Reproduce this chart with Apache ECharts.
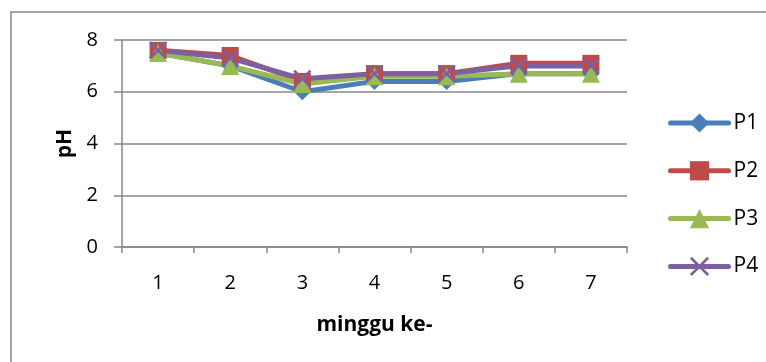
<!DOCTYPE html>
<html>
<head>
<meta charset="utf-8">
<script src="https://cdn.jsdelivr.net/npm/echarts@6/dist/echarts.min.js"></script>
<style>
  html, body { margin: 0; padding: 0; background: #fff; }
  #chart { width: 766px; height: 362px; }
</style>
</head>
<body>
<div id="chart"></div>
<script>
// Weekly pH readings for four treatments
const weeks = ['1', '2', '3', '4', '5', '6', '7'];
const p1 = [7.5, 7.0, 6.0, 6.4, 6.4, 6.7, 6.7];
const p2 = [7.6, 7.4, 6.4, 6.7, 6.7, 7.1, 7.1];
const p3 = [7.5, 7.0, 6.3, 6.6, 6.6, 6.7, 6.7];
const p4 = [7.6, 7.3, 6.5, 6.7, 6.7, 7.0, 7.0];
const seriesNames = ['P1', 'P2', 'P3', 'P4'];

const FONT = '"Open Sans", "Noto Sans", sans-serif';
const crossPath = 'path://M0,1L1,0L5,4L9,0L10,1L6,5L10,9L9,10L5,6L1,10L0,9L4,5Z';

function lineSeries(name, data, color, symbol, size) {
  return {
    name: name,
    type: 'line',
    data: data,
    symbol: symbol,
    symbolSize: size,
    showAllSymbol: true,
    color: color,
    lineStyle: { color: color, width: 5 },
    itemStyle: { color: color },
    emphasis: { disabled: true },
    animation: false
  };
}

const chart = echarts.init(document.getElementById('chart'), null, { renderer: 'canvas' });
chart.setOption({
  backgroundColor: '#ffffff',
  textStyle: { fontFamily: FONT },
  graphic: [{
    type: 'rect',
    shape: { x: 11, y: 12, width: 820, height: 420 },
    style: { fill: 'none', stroke: '#878787', lineWidth: 1.5 },
    silent: true
  }],
  grid: { left: 122, right: 139, top: 40, bottom: 115, containLabel: false },
  legend: {
    orient: 'vertical',
    left: 663,
    top: 106,
    itemWidth: 58,
    itemHeight: 24,
    itemGap: 23.8,
    lineStyle: { width: 5, cap: 'round' },
    textStyle: { fontFamily: FONT, fontSize: 21, lineHeight: 24, color: '#000' },
    data: seriesNames
  },
  xAxis: {
    type: 'category',
    data: weeks,
    boundaryGap: true,
    name: 'minggu ke-',
    nameLocation: 'middle',
    nameGap: 68,
    nameTextStyle: { fontFamily: FONT, fontSize: 21, fontWeight: 'bold', color: '#000' },
    axisLine: { lineStyle: { color: '#878787', width: 1.5 } },
    axisTick: { show: true, length: 6, inside: false, lineStyle: { color: '#878787', width: 1.5 } },
    axisLabel: { fontFamily: FONT, fontSize: 20, color: '#000', margin: 26 },
    splitLine: { show: false }
  },
  yAxis: {
    type: 'value',
    min: 0,
    max: 8,
    interval: 2,
    name: 'pH',
    nameLocation: 'middle',
    nameGap: 46,
    nameRotate: 90,
    nameTextStyle: { fontFamily: FONT, fontSize: 21, fontWeight: 'bold', color: '#000' },
    axisLine: { show: true, lineStyle: { color: '#878787', width: 1.5 } },
    axisTick: { show: true, length: 8, inside: false, lineStyle: { color: '#878787', width: 1.5 } },
    axisLabel: { fontFamily: FONT, fontSize: 20, color: '#000', margin: 24 },
    splitLine: { show: true, lineStyle: { color: '#878787', width: 1.5 } }
  },
  series: [
    lineSeries('P1', p1, '#4A7EBB', 'diamond', 17),
    lineSeries('P2', p2, '#BE4B48', 'rect', 17),
    lineSeries('P3', p3, '#98B954', 'triangle', 18),
    lineSeries('P4', p4, '#7D60A0', crossPath, 18)
  ]
});
</script>
</body>
</html>
